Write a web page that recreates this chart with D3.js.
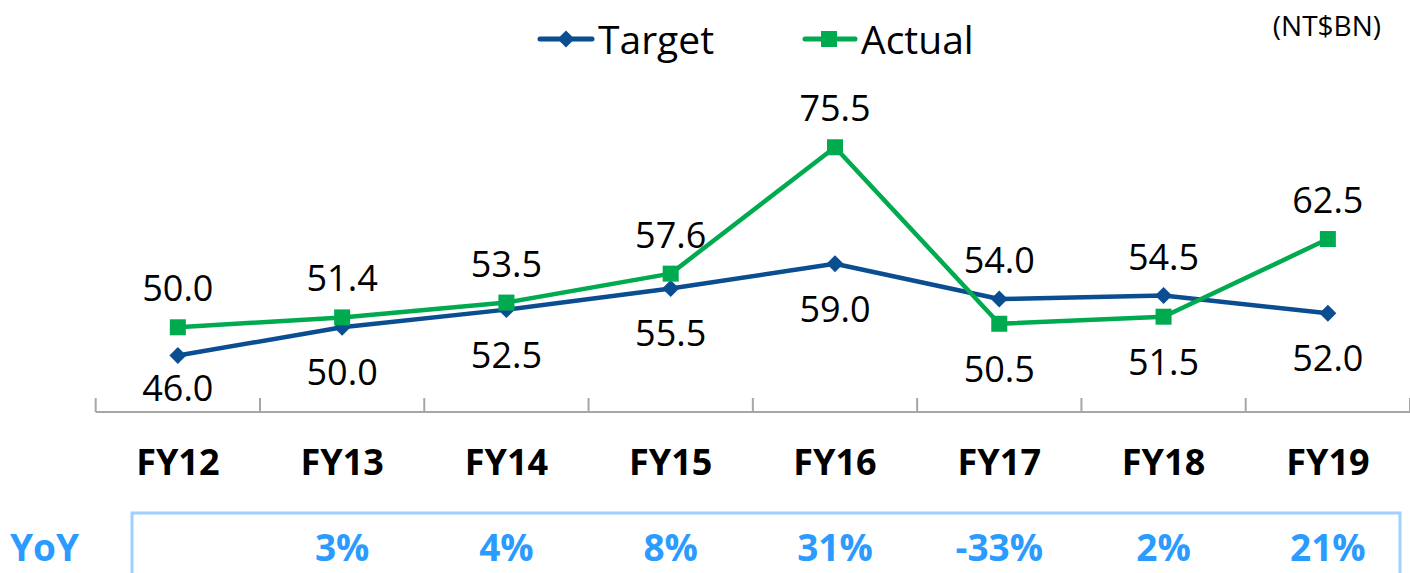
<!DOCTYPE html>
<html>
<head>
<meta charset="utf-8">
<script src="https://cdn.jsdelivr.net/npm/d3@7"></script>
<style>
  html, body { margin: 0; padding: 0; background: #fff; }
  svg { display: block; }
</style>
</head>
<body>
<svg id="chart" width="1410" height="573"></svg>
<script>
const categories = ["FY12", "FY13", "FY14", "FY15", "FY16", "FY17", "FY18", "FY19"];
const targetValues = [46.0, 50.0, 52.5, 55.5, 59.0, 54.0, 54.5, 52.0];
const actualValues = [50.0, 51.4, 53.5, 57.6, 75.5, 50.5, 51.5, 62.5];
const yoyLabels = ["", "3%", "4%", "8%", "31%", "-33%", "2%", "21%"];
const unitLabel = "(NT$BN)";

const svg = d3.select("#chart");
const FONT = "'Open Sans', 'Noto Sans', sans-serif";
const C_TARGET = "#0a4d91";
const C_ACTUAL = "#00aa4f";
const C_YOY = "#2b9bff";

const x = d3.scaleBand().domain(categories).range([95.7, 1410]).padding(0);
const cx = c => x(c) + x.bandwidth() / 2;
const y = d3.scaleLinear().domain([38, 80]).range([412, 115.5]);
const axisY = y(38);

// axis (ticks upward at band boundaries)
const axisG = svg.append("g").attr("transform", `translate(0,${axisY})`);
const boundaries = categories.map(c => x(c)).concat([x.range()[1]]);
axisG.append("line")
  .attr("x1", x.range()[0]).attr("x2", x.range()[1])
  .attr("y1", 0).attr("y2", 0)
  .attr("stroke", "#a6a6a6").attr("stroke-width", 2);
axisG.selectAll("line.tick").data(boundaries).join("line")
  .attr("class", "tick")
  .attr("x1", d => d).attr("x2", d => d)
  .attr("y1", 0).attr("y2", -14)
  .attr("stroke", "#a6a6a6").attr("stroke-width", 2);

// category labels
svg.append("g").selectAll("text").data(categories).join("text")
  .attr("x", d => cx(d)).attr("y", 475)
  .attr("text-anchor", "middle")
  .attr("font-family", FONT).attr("font-weight", 700).attr("font-size", 36)
  .attr("fill", "#000").text(d => d);

// lines
const line = d3.line().x((d, i) => cx(categories[i])).y(d => y(d));
svg.append("path").datum(targetValues).attr("d", line)
  .attr("fill", "none").attr("stroke", C_TARGET).attr("stroke-width", 4.5)
  .attr("stroke-linejoin", "round");
svg.append("path").datum(actualValues).attr("d", line)
  .attr("fill", "none").attr("stroke", C_ACTUAL).attr("stroke-width", 4.5)
  .attr("stroke-linejoin", "round");

// markers
svg.append("g").selectAll("rect").data(targetValues).join("rect")
  .attr("x", -6).attr("y", -6).attr("width", 12).attr("height", 12)
  .attr("transform", (d, i) => `translate(${cx(categories[i])},${y(d)}) rotate(45)`)
  .attr("fill", C_TARGET);
svg.append("g").selectAll("rect").data(actualValues).join("rect")
  .attr("x", -8).attr("y", -8).attr("width", 16).attr("height", 16)
  .attr("transform", (d, i) => `translate(${cx(categories[i])},${y(d)})`)
  .attr("fill", C_ACTUAL);

// data labels: higher value above, lower value below (kept above the axis)
const labels = [];
categories.forEach((c, i) => {
  const t = targetValues[i], a = actualValues[i];
  labels.push({ c, v: Math.max(t, a), pos: "above" });
  labels.push({ c, v: Math.min(t, a), pos: "below" });
});
svg.append("g").selectAll("text").data(labels).join("text")
  .attr("x", d => cx(d.c))
  .attr("y", d => d.pos === "above" ? y(d.v) - 26 : Math.min(y(d.v) + 58, axisY - 11))
  .attr("text-anchor", "middle")
  .attr("font-family", FONT).attr("font-size", 36).attr("fill", "#000")
  .text(d => d.v.toFixed(1));

// legend
const leg = svg.append("g");
leg.append("line").attr("x1", 540).attr("x2", 592).attr("y1", 39).attr("y2", 39)
  .attr("stroke", C_TARGET).attr("stroke-width", 5).attr("stroke-linecap", "round");
leg.append("rect").attr("x", -6).attr("y", -6).attr("width", 12).attr("height", 12)
  .attr("transform", "translate(566,39) rotate(45)").attr("fill", C_TARGET);
leg.append("text").attr("x", 598).attr("y", 54)
  .attr("font-family", FONT).attr("font-size", 39).attr("fill", "#000").text("Target");
leg.append("line").attr("x1", 805).attr("x2", 855).attr("y1", 39).attr("y2", 39)
  .attr("stroke", C_ACTUAL).attr("stroke-width", 5).attr("stroke-linecap", "round");
leg.append("rect").attr("x", 821).attr("y", 31).attr("width", 16).attr("height", 16)
  .attr("fill", C_ACTUAL);
leg.append("text").attr("x", 861).attr("y", 54)
  .attr("font-family", FONT).attr("font-size", 39).attr("fill", "#000").text("Actual");

// unit label
svg.append("text").attr("x", 1381).attr("y", 36).attr("text-anchor", "end")
  .attr("font-family", FONT).attr("font-size", 28).attr("fill", "#000").text(unitLabel);

// YoY box
svg.append("rect").attr("x", 132).attr("y", 513).attr("width", 1268).attr("height", 100)
  .attr("fill", "none").attr("stroke", "#9fd0ff").attr("stroke-width", 3);
svg.append("text").attr("x", 10).attr("y", 561)
  .attr("font-family", FONT).attr("font-weight", 700).attr("font-size", 37)
  .attr("fill", C_YOY).text("YoY");
svg.append("g").selectAll("text").data(yoyLabels).join("text")
  .attr("x", (d, i) => cx(categories[i])).attr("y", 561)
  .attr("text-anchor", "middle")
  .attr("font-family", FONT).attr("font-weight", 700).attr("font-size", 37)
  .attr("fill", C_YOY).text(d => d);
</script>
</body>
</html>
